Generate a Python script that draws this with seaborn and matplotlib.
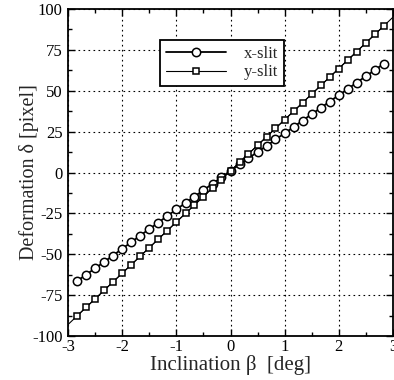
import matplotlib
matplotlib.use("Agg")
import matplotlib.pyplot as plt
import seaborn as sns
from matplotlib.ticker import MultipleLocator

# inclination angle [deg]
incl = [-2.83, -2.67, -2.5, -2.33, -2.17, -2.0, -1.83, -1.67, -1.5, -1.33,
        -1.17, -1.0, -0.83, -0.67, -0.5, -0.33, -0.17, 0.0, 0.17, 0.33,
        0.5, 0.67, 0.83, 1.0, 1.17, 1.33, 1.5, 1.67, 1.83, 2.0,
        2.17, 2.33, 2.5, 2.67, 2.83]

# deformation [pixel]
x_slit = [-66.3, -62.6, -58.6, -54.6, -50.8, -46.6, -42.6, -38.6, -34.6, -30.6,
          -26.6, -22.6, -18.6, -14.8, -10.8, -6.8, -2.9, 1.0, 4.9, 8.7,
          12.6, 16.3, 20.2, 24.0, 27.9, 31.8, 35.7, 39.6, 43.4, 47.3,
          51.2, 55.0, 58.9, 62.8, 66.6]
y_slit = [-87.6, -82.5, -77.3, -71.9, -66.9, -61.6, -56.3, -51.3, -46.0, -40.6,
          -35.6, -30.3, -25.0, -20.0, -14.7, -9.3, -4.3, 1.0, 6.3, 11.3,
          16.7, 22.0, 27.0, 32.3, 37.6, 42.6, 48.0, 53.3, 58.3, 63.6,
          68.9, 73.9, 79.3, 84.6, 89.6]

# straight line through the y-slit points, drawn across the full axis
fit_x = [-3.0, 3.0]
fit_y = [-93.0, 95.0]

sns.set_style("ticks")
plt.rcParams['font.family'] = ['Liberation Serif', 'DejaVu Serif']
plt.rcParams['xtick.direction'] = 'in'
plt.rcParams['ytick.direction'] = 'in'

fig = plt.figure(figsize=(3.94, 3.80), dpi=100)
ax = fig.add_axes([0.1726, 0.1158, 0.8249, 0.8605])

sns.lineplot(x=fit_x, y=fit_y, ax=ax, color='black', lw=0.8)
sns.lineplot(x=incl, y=x_slit, ax=ax, color='black', lw=1.3, marker='o',
             markersize=6, markerfacecolor='white', markeredgecolor='black',
             markeredgewidth=1.1, label='x-slit')
sns.lineplot(x=incl, y=y_slit, ax=ax, color='black', lw=0.8, marker='s',
             markersize=4.3, markerfacecolor='white', markeredgecolor='black',
             markeredgewidth=1.1, label='y-slit')

ax.set_xlim(-3, 3)
ax.set_ylim(-100, 100)
ax.xaxis.set_minor_locator(MultipleLocator(0.5))
ax.yaxis.set_minor_locator(MultipleLocator(12.5))
ax.set_xticks([-3, -2, -1, 0, 1, 2, 3])
ax.set_xticklabels(['-3', '-2', '-1', '0', '1', '2', '3'])
ax.set_yticks([-100, -75, -50, -25, 0, 25, 50, 75, 100])
ax.set_yticklabels(['-100', '-75', '-50', '-25', '0', '25', '50', '75', '100'])
ax.tick_params(which='both', top=True, right=True, labelsize=12, width=1.0,
               colors='black', pad=4)
ax.tick_params(axis='x', pad=2)
ax.tick_params(which='major', length=5)
ax.tick_params(which='minor', length=3)
ax.grid(True, which='major', color='black', linestyle=(0, (1.5, 3)), lw=0.8)
for s in ax.spines.values():
    s.set_linewidth(1.3)
    s.set_color('black')

ax.set_xlabel('Inclination β  [deg]', fontsize=15, labelpad=0)
ax.set_ylabel('Deformation δ [pixel]', fontsize=14.5, labelpad=-5)

leg = ax.legend(loc='upper left', bbox_to_anchor=(0.283, 0.905), fontsize=12,
                frameon=True, fancybox=False, framealpha=1, edgecolor='black',
                handlelength=3.6, handletextpad=1.1, borderpad=0.35,
                labelspacing=0.15, borderaxespad=0)
leg.get_frame().set_linewidth(1.3)

fig.savefig('out.png', dpi=100)
